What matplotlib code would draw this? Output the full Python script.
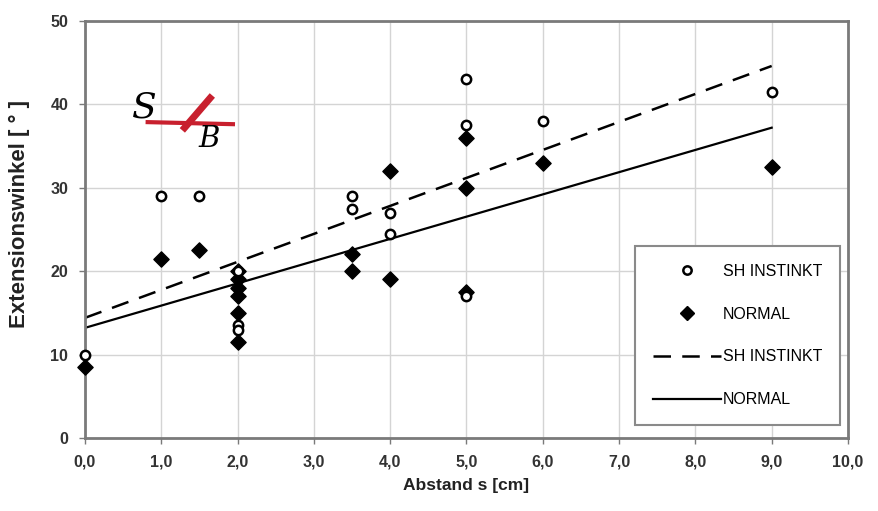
import matplotlib
matplotlib.use("Agg")
import matplotlib.pyplot as plt
from matplotlib.lines import Line2D

plt.rcParams["font.family"] = ["Liberation Sans", "DejaVu Sans"]

# SH INSTINKT (offene Kreise)
sh_x = [0.0, 1.0, 1.5, 2.0, 2.0, 2.0, 3.5, 3.5, 4.0, 4.0, 5.0, 5.0, 5.0, 6.0, 9.0]
sh_y = [10.0, 29.0, 29.0, 20.0, 13.5, 13.0, 29.0, 27.5, 27.0, 24.5, 43.0, 37.5, 17.0, 38.0, 41.5]

# NORMAL (Rauten)
nm_x = [0.0, 1.0, 1.5, 2.0, 2.0, 2.0, 2.0, 2.0, 2.0, 3.5, 3.5, 4.0, 4.0, 5.0, 5.0, 5.0, 6.0, 9.0]
nm_y = [8.5, 21.5, 22.5, 20.0, 19.0, 18.0, 17.0, 15.0, 11.5, 22.0, 20.0, 32.0, 19.0, 36.0, 30.0, 17.5, 33.0, 32.5]

trend_x = [0.0, 9.0]
trend_sh = [14.4, 44.6]
trend_nm = [13.2, 37.2]

x_ticks = [0, 1, 2, 3, 4, 5, 6, 7, 8, 9, 10]
x_labels = ["0,0", "1,0", "2,0", "3,0", "4,0", "5,0", "6,0", "7,0", "8,0", "9,0", "10,0"]
y_ticks = [0, 10, 20, 30, 40, 50]

dash = (0, (7, 4.5))

fig = plt.figure(figsize=(8.79, 5.11), dpi=100)
ax = fig.add_axes([0.0967, 0.143, 0.868, 0.816])

ax.plot(trend_x, trend_sh, color="black", lw=1.8, ls=dash, zorder=2)
ax.plot(trend_x, trend_nm, color="black", lw=1.6, zorder=2)
ax.scatter(nm_x, nm_y, marker="D", s=60, color="black", zorder=3, clip_on=False)
ax.scatter(sh_x, sh_y, marker="o", s=45, facecolor="white", edgecolor="black",
           linewidths=1.8, zorder=4, clip_on=False)

ax.set_xlim(0, 10)
ax.set_ylim(0, 50)
ax.set_xticks(x_ticks)
ax.set_xticklabels(x_labels)
ax.set_yticks(y_ticks)
ax.grid(True, color="#d4d4d4", lw=1)
ax.set_axisbelow(True)
for s in ax.spines.values():
    s.set_color("#7a7a7a")
    s.set_linewidth(2)
ax.tick_params(colors="#7a7a7a", length=4, width=1, labelcolor="#333333", pad=8)
for lab in ax.get_xticklabels() + ax.get_yticklabels():
    lab.set_fontweight("bold")
    lab.set_fontsize(11.5)

ax.set_xlabel("Abstand s [cm]", fontsize=12.5, fontweight="bold", color="#222222", labelpad=6)
ax.set_ylabel("Extensionswinkel [ ° ]", fontsize=16, fontweight="bold", color="#222222")
ax.yaxis.set_label_coords(-0.072, 0.537)

# Legende in der Reihenfolge der Vorlage
h = [
    Line2D([], [], marker="o", ls="none", markerfacecolor="white", markeredgecolor="black",
           markeredgewidth=1.8, markersize=6),
    Line2D([], [], marker="D", ls="none", color="black", markersize=7),
    Line2D([], [], color="black", lw=1.8, ls=dash),
    Line2D([], [], color="black", lw=1.6),
]
leg = ax.legend(h, ["SH INSTINKT", "NORMAL", "SH INSTINKT", "NORMAL"],
                loc="lower right", bbox_to_anchor=(0.9895, 0.031), fancybox=False,
                framealpha=1, edgecolor="#8a8a8a", fontsize=11.5, labelspacing=1.75,
                handlelength=4.3, handletextpad=0.1, borderpad=1.1, borderaxespad=0)
leg.get_frame().set_linewidth(1.5)

# Logo S/B
fig.text(0.150, 0.771, "S", fontsize=26, fontstyle="italic", family="DejaVu Serif",
         color="black", ha="left", va="baseline")
fig.text(0.226, 0.712, "B", fontsize=21, fontstyle="italic", family="DejaVu Serif",
         color="black", ha="left", va="baseline")
fig.add_artist(Line2D([0.239, 0.210], [0.808, 0.750], color="#c8202e", lw=5,
                      transform=fig.transFigure))
fig.add_artist(Line2D([0.168, 0.265], [0.761, 0.757], color="#c8202e", lw=3,
                      transform=fig.transFigure))

fig.savefig("out.png", dpi=100)
